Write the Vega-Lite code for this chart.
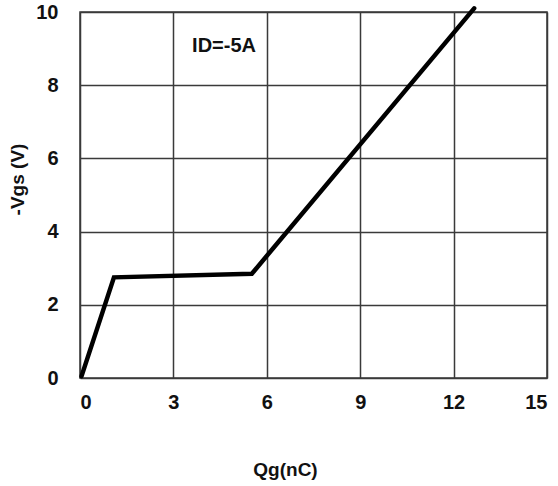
{
  "$schema": "https://vega.github.io/schema/vega-lite/v6.json",
  "width": 467,
  "height": 366,
  "autosize": "none",
  "padding": {"left": 80, "top": 12, "right": 11, "bottom": 108},
  "background": "white",
  "config": {
    "font": "Liberation Sans",
    "view": {"stroke": "#3a3a3a", "strokeWidth": 1.5},
    "axis": {
      "grid": true,
      "gridColor": "#3a3a3a",
      "gridWidth": 1.5,
      "gridOpacity": 1,
      "domain": false,
      "ticks": false,
      "labelFont": "Liberation Sans",
      "labelFontWeight": "bold",
      "labelFontSize": 20,
      "labelColor": "#111",
      "titleFont": "Liberation Sans",
      "titleFontWeight": "bold",
      "titleFontSize": 19,
      "titleColor": "#111"
    }
  },
  "datasets": {
    "curve": [
      {"qg": 0.05, "vgs": 0.05},
      {"qg": 1.09, "vgs": 2.75},
      {"qg": 5.52, "vgs": 2.85},
      {"qg": 12.66, "vgs": 10.1}
    ],
    "note": [
      {"qg": 3.6, "vgs": 9.08, "label": "ID=-5A"}
    ]
  },
  "layer": [
    {
      "data": {"name": "curve"},
      "mark": {"type": "line", "color": "#000", "strokeWidth": 4.5, "clip": false, "strokeCap": "round", "strokeJoin": "miter"},
      "encoding": {
        "x": {
          "field": "qg", "type": "quantitative",
          "scale": {"domain": [0, 15], "nice": false},
          "axis": {"values": [0, 3, 6, 9, 12, 15], "title": "Qg(nC)", "labelPadding": 14,
                   "titleX": 205, "titleY": 82, "titleAlign": "center", "titleBaseline": "top"}
        },
        "y": {
          "field": "vgs", "type": "quantitative",
          "scale": {"domain": [0, 10], "nice": false},
          "axis": {"values": [0, 2, 4, 6, 8, 10], "title": "-Vgs (V)", "labelPadding": 22,
                   "titleX": -63, "titleY": 167, "titleAngle": -90, "titleAlign": "center", "titleBaseline": "middle"}
        }
      }
    },
    {
      "data": {"name": "note"},
      "mark": {"type": "text", "align": "left", "baseline": "middle", "fontSize": 20, "fontWeight": "bold", "font": "Liberation Sans", "color": "#111"},
      "encoding": {
        "x": {"field": "qg", "type": "quantitative"},
        "y": {"field": "vgs", "type": "quantitative"},
        "text": {"field": "label"}
      }
    }
  ]
}
